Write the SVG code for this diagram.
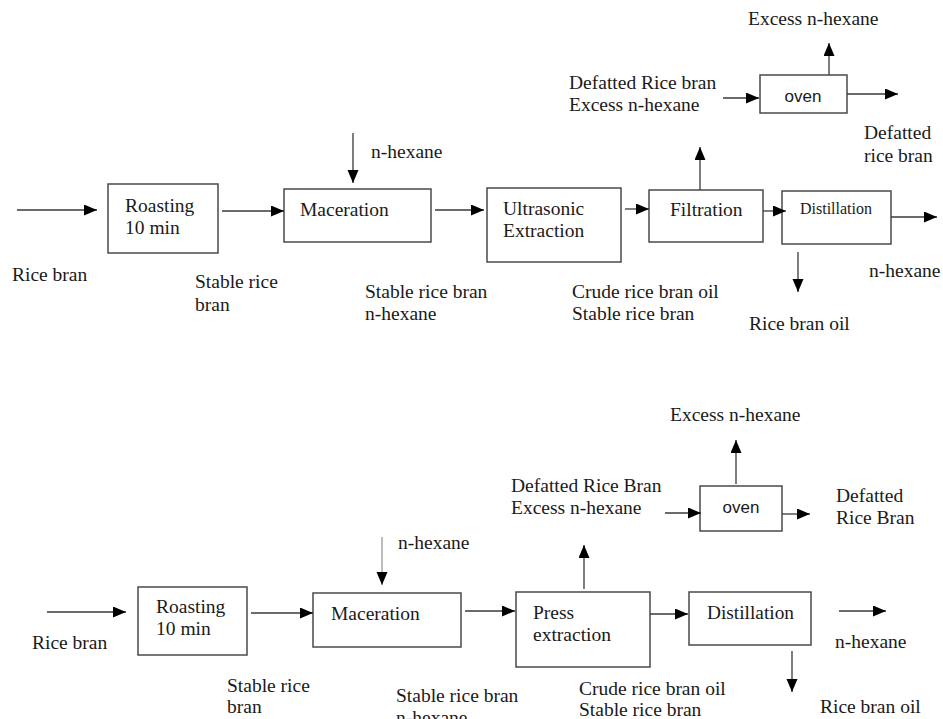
<svg xmlns="http://www.w3.org/2000/svg" width="943" height="719" viewBox="0 0 943 719">
<style>
  .t { font-family: 'Liberation Serif', 'DejaVu Serif', serif; font-size: 19.5px; fill: #1a1a1a; }
  .sans { font-family: 'Liberation Sans', 'DejaVu Sans', sans-serif; font-size: 17px; text-anchor: middle; fill: #1a1a1a; }
  .box { fill: #ffffff; stroke: #4a4a4a; stroke-width: 1.5; }
  .conn line { stroke: #3a3a3a; stroke-width: 1.3; marker-end: url(#ah); }
</style>
<defs>
  <marker id="ah" markerUnits="userSpaceOnUse" markerWidth="14" markerHeight="12" refX="13" refY="5.5" orient="auto">
    <path d="M0,0 L13,5.5 L0,11 z" fill="#000"/>
  </marker>
</defs>
<rect width="943" height="719" fill="#ffffff"/>

<g class="t" font-family="Liberation Serif, serif">
<!-- Top process -->
<g id="t-roasting"><rect class="box" x="108" y="184" width="110" height="69"/><text x="125" y="212">Roasting</text><text x="125" y="234">10 min</text></g>
<g id="t-maceration"><rect class="box" x="284" y="189" width="147" height="53"/><text x="300" y="216">Maceration</text></g>
<g id="t-ultrasonic"><rect class="box" x="487" y="188" width="134" height="74"/><text x="503" y="215">Ultrasonic</text><text x="503" y="237">Extraction</text></g>
<g id="t-filtration"><rect class="box" x="649" y="190" width="114" height="52"/><text x="670" y="216">Filtration</text></g>
<g id="t-distillation"><rect class="box" x="782" y="191" width="109" height="53"/><text x="800" y="214" font-size="16" textLength="72" lengthAdjust="spacingAndGlyphs">Distillation</text></g>
<g id="t-oven"><rect class="box" x="760" y="75" width="87" height="38"/><text class="sans" x="803" y="102">oven</text></g>

<g id="t-labels">
  <text x="12" y="281">Rice bran</text>
  <text x="195" y="288">Stable rice</text><text x="195" y="311">bran</text>
  <text x="371" y="158">n-hexane</text>
  <text x="365" y="298">Stable rice bran</text><text x="365" y="320">n-hexane</text>
  <text x="572" y="298">Crude rice bran oil</text><text x="572" y="320">Stable rice bran</text>
  <text x="869" y="277">n-hexane</text>
  <text x="749" y="330">Rice bran oil</text>
  <text x="569" y="89">Defatted Rice bran</text><text x="569" y="111">Excess n-hexane</text>
  <text x="748" y="25">Excess n-hexane</text>
  <text x="864" y="139">Defatted</text><text x="864" y="162">rice bran</text>
</g>

<!-- Bottom process -->
<g id="b-roasting"><rect class="box" x="138" y="587" width="109" height="68"/><text x="156" y="613">Roasting</text><text x="156" y="635">10 min</text></g>
<g id="b-maceration"><rect class="box" x="313" y="593" width="148" height="54"/><text x="331" y="620">Maceration</text></g>
<g id="b-press"><rect class="box" x="516" y="592" width="134" height="75"/><text x="533" y="619">Press</text><text x="533" y="641">extraction</text></g>
<g id="b-distillation"><rect class="box" x="689" y="592" width="122" height="53"/><text x="707" y="619" textLength="87" lengthAdjust="spacingAndGlyphs">Distillation</text></g>
<g id="b-oven"><rect class="box" x="700" y="486" width="82" height="45"/><text class="sans" x="741" y="513">oven</text></g>

<g id="b-labels">
  <text x="32" y="649">Rice bran</text>
  <text x="227" y="692">Stable rice</text><text x="227" y="713">bran</text>
  <text x="398" y="549">n-hexane</text>
  <text x="396" y="702">Stable rice bran</text><text x="396" y="724">n-hexane</text>
  <text x="579" y="695">Crude rice bran oil</text><text x="579" y="716">Stable rice bran</text>
  <text x="835" y="648">n-hexane</text>
  <text x="820" y="713">Rice bran oil</text>
  <text x="511" y="492">Defatted Rice Bran</text><text x="511" y="514">Excess n-hexane</text>
  <text x="670" y="421">Excess n-hexane</text>
  <text x="836" y="502">Defatted</text><text x="836" y="524">Rice Bran</text>
</g>
</g>

<g id="connectors" class="conn">
  <!-- top -->
  <line x1="17" y1="210" x2="97" y2="210"/>
  <line x1="222" y1="211" x2="284" y2="211"/>
  <line x1="353" y1="133" x2="353" y2="183"/>
  <line x1="435" y1="210" x2="484" y2="210"/>
  <line x1="625" y1="209" x2="649" y2="209"/>
  <line x1="700" y1="190" x2="700" y2="147"/>
  <line x1="763" y1="211" x2="786" y2="211"/>
  <line x1="891" y1="217" x2="937" y2="217"/>
  <line x1="798" y1="252" x2="798" y2="292"/>
  <line x1="723" y1="98" x2="759" y2="98"/>
  <line x1="829" y1="75" x2="829" y2="43"/>
  <line x1="847" y1="94" x2="898" y2="94"/>
  <!-- bottom -->
  <line x1="47" y1="612" x2="126" y2="612"/>
  <line x1="251" y1="613" x2="313" y2="613"/>
  <line x1="382" y1="537" x2="382" y2="585" style="stroke:#9a9a9a"/>
  <line x1="465" y1="611" x2="515" y2="611"/>
  <line x1="584" y1="589" x2="584" y2="545"/>
  <line x1="650" y1="614" x2="688" y2="614"/>
  <line x1="839" y1="611" x2="886" y2="611"/>
  <line x1="792" y1="651" x2="792" y2="692"/>
  <line x1="665" y1="513" x2="701" y2="513"/>
  <line x1="736" y1="484" x2="736" y2="440"/>
  <line x1="782" y1="514" x2="810" y2="514"/>
</g>
</svg>
